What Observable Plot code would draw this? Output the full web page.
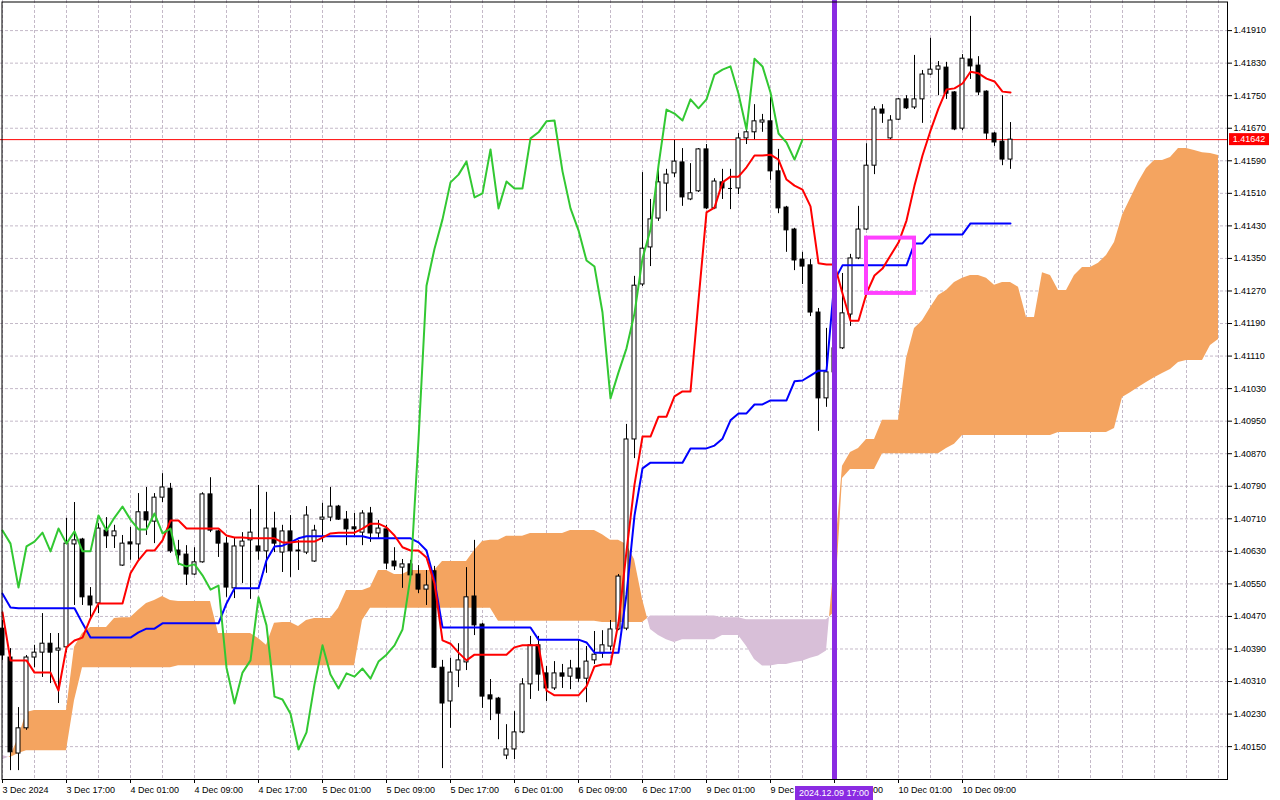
<!DOCTYPE html>
<html>
<head>
<meta charset="utf-8">
<script src="https://cdn.jsdelivr.net/npm/d3@7"></script>
<script src="https://cdn.jsdelivr.net/npm/@observablehq/plot@0.6"></script>
<style>
  html, body { margin: 0; padding: 0; background: #ffffff; }
  #chart svg { display: block; }
</style>
</head>
<body>
<div id="chart"></div>
<script>
// ---------- DATA (H1 bars, index 0 = 3 Dec 2024 09:00) ----------
const open = [
1.40440,1.40369,1.40133,1.40195,1.40369,1.40381,1.40403,1.40386,1.40394,1.40647,
1.40659,1.40519,1.40502,1.40681,1.40667,1.40595,1.40652,1.40647,1.40726,1.40703,
1.40762,1.40784,1.40632,1.40622,1.40573,1.40603,1.40770,1.40679,1.40649,1.40539,
1.40642,1.40657,1.40642,1.40630,1.40686,1.40627,1.40679,1.40632,1.40627,1.40605,
1.40708,1.40713,1.40740,1.40708,1.40689,1.40676,1.40723,1.40674,1.40684,1.40605,
1.40590,1.40598,1.40573,1.40536,1.40581,1.40344,1.40261,1.40337,1.40357,1.40519,
1.40450,1.40276,1.40268,1.40128,1.40143,1.40185,1.40303,1.40399,1.40330,1.40293,
1.40330,1.40322,1.40342,1.40317,1.40362,1.40379,1.40396,1.40438,1.40440,1.40905,
1.41286,1.41377,1.41448,1.41534,1.41559,1.41586,1.41495,1.41515,1.41618,1.41473,
1.41537,1.41522,1.41522,1.41645,1.41660,1.41684,1.41687,1.41564,1.41475,1.41421,
1.41347,1.41333,1.41217,1.41006,1.41070,1.41129,1.41212,1.41350,1.41421,1.41578,
1.41716,1.41645,1.41691,1.41741,1.41721,1.41741,1.41802,1.41814,1.41819,1.41758,
1.41669,1.41839,1.41824,1.41760,1.41657,1.41637,1.41593];
const high = [
1.40460,1.40391,1.40246,1.40374,1.40399,1.40477,1.40428,1.40428,1.40711,1.40750,
1.40662,1.40541,1.40698,1.40713,1.40694,1.40669,1.40689,1.40772,1.40787,1.40772,
1.40821,1.40797,1.40657,1.40644,1.40639,1.40774,1.40811,1.40681,1.40664,1.40662,
1.40676,1.40733,1.40792,1.40775,1.40726,1.40694,1.40718,1.40657,1.40740,1.40694,
1.40748,1.40787,1.40743,1.40728,1.40723,1.40730,1.40738,1.40706,1.40694,1.40639,
1.40610,1.40608,1.40595,1.40583,1.40593,1.40362,1.40367,1.40403,1.40590,1.40657,
1.40453,1.40315,1.40271,1.40204,1.40236,1.40317,1.40421,1.40421,1.40347,1.40359,
1.40352,1.40362,1.40411,1.40396,1.40433,1.40435,1.40460,1.40573,1.40942,1.41306,
1.41561,1.41495,1.41569,1.41569,1.41640,1.41620,1.41583,1.41620,1.41630,1.41546,
1.41569,1.41569,1.41657,1.41672,1.41728,1.41704,1.41746,1.41618,1.41478,1.41424,
1.41365,1.41347,1.41227,1.41178,1.41150,1.41313,1.41360,1.41478,1.41632,1.41723,
1.41728,1.41701,1.41743,1.41750,1.41849,1.41812,1.41891,1.41834,1.41832,1.41760,
1.41851,1.41945,1.41846,1.41762,1.41660,1.41750,1.41684];
const low = [
1.40362,1.40091,1.40091,1.40190,1.40344,1.40320,1.40305,1.40256,1.40381,1.40497,
1.40497,1.40460,1.40477,1.40637,1.40637,1.40593,1.40608,1.40608,1.40669,1.40649,
1.40750,1.40625,1.40595,1.40546,1.40571,1.40601,1.40676,1.40615,1.40517,1.40514,
1.40551,1.40512,1.40608,1.40576,1.40627,1.40578,1.40566,1.40583,1.40622,1.40603,
1.40652,1.40703,1.40706,1.40644,1.40664,1.40644,1.40652,1.40662,1.40585,1.40583,
1.40539,1.40558,1.40526,1.40497,1.40342,1.40096,1.40195,1.40295,1.40337,1.40423,
1.40244,1.40214,1.40167,1.40118,1.40118,1.40182,1.40266,1.40286,1.40261,1.40288,
1.40293,1.40290,1.40308,1.40258,1.40352,1.40367,1.40386,1.40435,1.40435,1.40858,
1.41281,1.41330,1.41441,1.41465,1.41549,1.41478,1.41492,1.41512,1.41470,1.41470,
1.41495,1.41470,1.41507,1.41630,1.41642,1.41660,1.41542,1.41460,1.41365,1.41320,
1.41286,1.41207,1.40925,1.40984,1.41062,1.41126,1.41183,1.41347,1.41419,1.41556,
1.41682,1.41642,1.41689,1.41716,1.41716,1.41682,1.41800,1.41750,1.41741,1.41664,
1.41664,1.41790,1.41750,1.41642,1.41625,1.41578,1.41569];
const close = [
1.40374,1.40136,1.40195,1.40369,1.40381,1.40403,1.40381,1.40391,1.40649,1.40657,
1.40517,1.40497,1.40686,1.40667,1.40679,1.40649,1.40647,1.40726,1.40706,1.40762,
1.40787,1.40630,1.40620,1.40573,1.40603,1.40770,1.40681,1.40649,1.40541,1.40642,
1.40654,1.40676,1.40630,1.40686,1.40649,1.40679,1.40630,1.40630,1.40718,1.40681,
1.40713,1.40740,1.40708,1.40684,1.40684,1.40723,1.40674,1.40686,1.40600,1.40593,
1.40598,1.40571,1.40536,1.40546,1.40344,1.40256,1.40332,1.40362,1.40517,1.40448,
1.40273,1.40266,1.40231,1.40143,1.40185,1.40303,1.40399,1.40327,1.40293,1.40330,
1.40322,1.40342,1.40317,1.40359,1.40376,1.40399,1.40438,1.40568,1.40905,1.41283,
1.41374,1.41446,1.41537,1.41556,1.41588,1.41500,1.41510,1.41618,1.41473,1.41539,
1.41522,1.41522,1.41645,1.41660,1.41687,1.41689,1.41564,1.41473,1.41419,1.41345,
1.41330,1.41217,1.41006,1.41070,1.41129,1.41215,1.41350,1.41421,1.41578,1.41716,
1.41706,1.41689,1.41741,1.41719,1.41741,1.41802,1.41814,1.41822,1.41755,1.41667,
1.41841,1.41822,1.41758,1.41657,1.41635,1.41593,1.41642];

// Tenkan-sen (red)
const tenkan = [
1.40480,1.40362,1.40362,1.40362,1.40332,1.40332,1.40332,1.40288,1.40394,1.40411,
1.40418,1.40465,1.40502,1.40502,1.40502,1.40502,1.40576,1.40608,1.40632,1.40632,
1.40657,1.40706,1.40706,1.40686,1.40686,1.40686,1.40686,1.40686,1.40669,1.40664,
1.40664,1.40662,1.40662,1.40662,1.40662,1.40652,1.40652,1.40654,1.40654,1.40654,
1.40664,1.40674,1.40676,1.40676,1.40676,1.40686,1.40698,1.40698,1.40689,1.40669,
1.40640,1.40632,1.40632,1.40615,1.40551,1.40411,1.40403,1.40381,1.40362,1.40376,
1.40376,1.40376,1.40376,1.40376,1.40394,1.40399,1.40399,1.40399,1.40288,1.40276,
1.40276,1.40276,1.40276,1.40298,1.40347,1.40352,1.40352,1.40455,1.40630,1.40794,
1.40912,1.40912,1.40961,1.40961,1.41011,1.41023,1.41023,1.41247,1.41463,1.41475,
1.41537,1.41551,1.41551,1.41574,1.41603,1.41603,1.41605,1.41593,1.41544,1.41529,
1.41519,1.41478,1.41338,1.41335,1.41335,1.41264,1.41197,1.41197,1.41264,1.41308,
1.41325,1.41357,1.41389,1.41443,1.41529,1.41603,1.41664,1.41719,1.41765,1.41768,
1.41780,1.41809,1.41805,1.41792,1.41785,1.41760,1.41758];

// Kijun-sen (blue)
const kijun = [
1.40526,1.40492,1.40490,1.40490,1.40490,1.40490,1.40490,1.40490,1.40490,1.40490,
1.40453,1.40418,1.40418,1.40418,1.40418,1.40418,1.40418,1.40431,1.40440,1.40440,
1.40453,1.40453,1.40453,1.40453,1.40453,1.40453,1.40453,1.40453,1.40502,1.40539,
1.40539,1.40539,1.40539,1.40608,1.40642,1.40644,1.40652,1.40662,1.40667,1.40667,
1.40667,1.40667,1.40667,1.40667,1.40667,1.40667,1.40662,1.40662,1.40662,1.40662,
1.40662,1.40662,1.40652,1.40632,1.40558,1.40443,1.40443,1.40443,1.40443,1.40443,
1.40443,1.40443,1.40443,1.40443,1.40443,1.40443,1.40443,1.40413,1.40413,1.40413,
1.40413,1.40413,1.40413,1.40406,1.40381,1.40381,1.40381,1.40381,1.40524,1.40718,
1.40834,1.40848,1.40848,1.40848,1.40848,1.40848,1.40883,1.40883,1.40883,1.40890,
1.40907,1.40952,1.40969,1.40969,1.40991,1.40991,1.41001,1.41001,1.41001,1.41048,
1.41050,1.41062,1.41074,1.41074,1.41296,1.41333,1.41333,1.41333,1.41333,1.41333,
1.41333,1.41333,1.41333,1.41333,1.41387,1.41387,1.41409,1.41409,1.41409,1.41409,
1.41409,1.41436,1.41436,1.41436,1.41436,1.41436,1.41436];

// Senkou Span A and B (already displaced 26 bars forward, index 0..152)
const spanA = [
1.40118,1.40126,1.40172,1.40234,1.40239,1.40239,1.40239,1.40239,1.40239,1.40394,
1.40428,1.40443,1.40443,1.40443,1.40465,1.40467,1.40467,1.40485,1.40502,1.40509,
1.40519,1.40509,1.40507,1.40507,1.40507,1.40507,1.40507,1.40428,1.40428,1.40428,
1.40428,1.40428,1.40416,1.40399,1.40453,1.40455,1.40455,1.40445,1.40460,1.40465,
1.40465,1.40465,1.40490,1.40534,1.40534,1.40534,1.40541,1.40583,1.40583,1.40573,
1.40573,1.40583,1.40583,1.40583,1.40583,1.40605,1.40605,1.40605,1.40605,1.40632,
1.40654,1.40657,1.40657,1.40667,1.40667,1.40667,1.40674,1.40674,1.40674,1.40674,
1.40674,1.40681,1.40681,1.40681,1.40681,1.40671,1.40657,1.40657,1.40647,1.40610,
1.40512,1.40438,1.40423,1.40413,1.40406,1.40413,1.40413,1.40413,1.40413,1.40413,
1.40423,1.40423,1.40423,1.40397,1.40364,1.40348,1.40348,1.40352,1.40352,1.40357,
1.40360,1.40367,1.40373,1.40385,1.40608,1.40839,1.40873,1.40883,1.40905,1.40905,
1.40952,1.40952,1.40952,1.41104,1.41178,1.41197,1.41229,1.41259,1.41271,1.41291,
1.41301,1.41308,1.41308,1.41301,1.41284,1.41291,1.41291,1.41279,1.41205,1.41205,
1.41315,1.41308,1.41271,1.41271,1.41308,1.41328,1.41328,1.41338,1.41357,1.41389,
1.41456,1.41497,1.41537,1.41571,1.41591,1.41591,1.41598,1.41620,1.41620,1.41615,
1.41610,1.41608,1.41603];
const spanB = [
1.40128,1.40123,1.40133,1.40140,1.40140,1.40140,1.40140,1.40140,1.40140,1.40263,
1.40344,1.40344,1.40344,1.40344,1.40344,1.40344,1.40344,1.40344,1.40344,1.40344,
1.40344,1.40344,1.40349,1.40349,1.40349,1.40349,1.40349,1.40349,1.40349,1.40349,
1.40349,1.40349,1.40349,1.40349,1.40349,1.40349,1.40349,1.40349,1.40349,1.40349,
1.40349,1.40349,1.40349,1.40349,1.40349,1.40460,1.40490,1.40490,1.40490,1.40490,
1.40490,1.40490,1.40490,1.40490,1.40490,1.40490,1.40490,1.40490,1.40490,1.40490,
1.40490,1.40490,1.40458,1.40458,1.40458,1.40458,1.40458,1.40458,1.40458,1.40458,
1.40458,1.40458,1.40458,1.40458,1.40458,1.40455,1.40455,1.40455,1.40455,1.40455,
1.40455,1.40471,1.40471,1.40471,1.40471,1.40471,1.40471,1.40471,1.40471,1.40471,
1.40467,1.40467,1.40467,1.40462,1.40462,1.40462,1.40462,1.40462,1.40462,1.40462,
1.40462,1.40462,1.40462,1.40462,1.40480,1.40809,1.40831,1.40831,1.40831,1.40831,
1.40870,1.40870,1.40870,1.40870,1.40870,1.40870,1.40870,1.40870,1.40883,1.40893,
1.40915,1.40915,1.40915,1.40915,1.40915,1.40915,1.40915,1.40915,1.40915,1.40915,
1.40915,1.40915,1.40922,1.40922,1.40922,1.40922,1.40922,1.40922,1.40922,1.40932,
1.41008,1.41020,1.41033,1.41045,1.41057,1.41067,1.41077,1.41094,1.41099,1.41099,
1.41099,1.41136,1.41151];

const chikouShift = 26;

const xTickBars = [0,8,16,24,32,40,48,56,64,72,80,88,96,104,112,120];
const xTickLabels = ["3 Dec 2024","3 Dec 17:00","4 Dec 01:00","4 Dec 09:00","4 Dec 17:00",
  "5 Dec 01:00","5 Dec 09:00","5 Dec 17:00","6 Dec 01:00","6 Dec 09:00","6 Dec 17:00",
  "9 Dec 01:00","9 Dec 09:00","9 Dec 17:00","10 Dec 01:00","10 Dec 09:00"];
const yTicks = [1.40150,1.40230,1.40310,1.40390,1.40470,1.40550,1.40630,1.40710,1.40790,
  1.40870,1.40950,1.41030,1.41110,1.41190,1.41270,1.41350,1.41430,1.41510,1.41590,
  1.41670,1.41750,1.41830,1.41910];
const lastPrice = 1.41642;
const markerBar = 104;
const markerLabel = "2024.12.09 17:00";
const boxBars = [108, 114];
const boxPrices = [1.41264, 1.41400];

// ---------- BUILD ----------
const candles = open.map((o, i) => ({i, o, h: high[i], l: low[i], c: close[i]}));
const tenkanData = tenkan.map((v, i) => ({x: i, y: v}));
const kijunData = kijun.map((v, i) => ({x: i, y: v}));
const chikouData = close.slice(chikouShift).map((v, k) => ({x: k, y: v}));

// cloud with crossing points so the two colours meet exactly
const cloud = [];
for (let i = 0; i < spanA.length; i++) {
  cloud.push({x: i, a: spanA[i], b: spanB[i]});
  if (i < spanA.length - 1) {
    const d0 = spanA[i] - spanB[i], d1 = spanA[i + 1] - spanB[i + 1];
    if (d0 * d1 < 0) {
      const t = d0 / (d0 - d1);
      const v = spanA[i] + t * (spanA[i + 1] - spanA[i]);
      cloud.push({x: i + t, a: v, b: v});
    }
  }
}

const gridBars = d3.range(0, spanA.length, 4);
const gridColor = "#c4b9c8";
const font = "'Liberation Sans', Arial, sans-serif";

const chart = Plot.plot({
  width: 1280,
  height: 800,
  marginLeft: 0,
  marginRight: 53,
  marginTop: 0,
  marginBottom: 21,
  style: {fontFamily: font, fontSize: "9px", background: "#ffffff", color: "#000000"},
  x: {type: "linear", domain: [-0.25, 153.125], axis: null},
  y: {type: "linear", domain: [1.400692, 1.41984], axis: null},
  marks: [
    Plot.ruleY(yTicks, {stroke: gridColor, strokeDasharray: "3,2"}),
    Plot.ruleX(gridBars, {stroke: gridColor, strokeDasharray: "3,2"}),
    Plot.areaY(cloud, {x: "x", y1: "b", y2: d => Math.max(d.a, d.b), fill: "#F4A460", curve: "linear"}),
    Plot.areaY(cloud, {x: "x", y1: "a", y2: d => Math.max(d.a, d.b), fill: "#D8BFD8", curve: "linear"}),
    Plot.ruleY([lastPrice], {stroke: "#ff0000", strokeWidth: 1}),
    Plot.ruleX(candles, {x: "i", y1: "l", y2: "h", stroke: "#000000", strokeWidth: 1}),
    Plot.rect(candles.filter(d => d.o !== d.c), {
      x1: d => d.i - 0.25, x2: d => d.i + 0.25, y1: "o", y2: "c",
      fill: d => d.c > d.o ? "#ffffff" : "#000000", stroke: "#000000", strokeWidth: 1
    }),
    Plot.ruleY(candles.filter(d => d.o === d.c), {y: "o", x1: d => d.i - 0.25, x2: d => d.i + 0.25, stroke: "#000000"}),
    Plot.line(kijunData, {x: "x", y: "y", stroke: "#0000ff", strokeWidth: 2}),
    Plot.line(tenkanData, {x: "x", y: "y", stroke: "#ff0000", strokeWidth: 2}),
    Plot.line(chikouData, {x: "x", y: "y", stroke: "#32c832", strokeWidth: 2}),
    Plot.ruleX([markerBar], {stroke: "#8a2be2", strokeWidth: 5}),
    Plot.rect([{x1: boxBars[0], x2: boxBars[1], y1: boxPrices[0], y2: boxPrices[1]}], {
      x1: "x1", x2: "x2", y1: "y1", y2: "y2", fill: "none", stroke: "#ff40ff", strokeWidth: 4
    }),
    Plot.frame({stroke: "#000000", insetLeft: 1.5, insetTop: 1.5}),
    Plot.axisY(yTicks, {anchor: "right", tickSize: 4, tickPadding: 2, tickFormat: d => d.toFixed(5), fontSize: 9, fill: "#000000"}),
    Plot.axisX(xTickBars, {anchor: "bottom", tickSize: 4, tickPadding: 3,
      tickFormat: d => xTickLabels[xTickBars.indexOf(d)], textAnchor: "start", fontSize: 9, fill: "#000000"})
  ]
});

document.getElementById("chart").appendChild(chart);

// overlay labels (price tag and time tag) positioned through the plot's scales
const sx = chart.scale("x"), sy = chart.scale("y");
const svg = d3.select(chart);
const py = sy.apply(lastPrice);
const tag = svg.append("g").attr("font-family", font).attr("font-size", 9);
tag.append("rect").attr("x", 1229).attr("y", py - 6).attr("width", 40).attr("height", 12).attr("fill", "#ff0000");
tag.append("text").attr("x", 1249).attr("y", py).attr("dy", "0.34em").attr("text-anchor", "middle")
  .attr("fill", "#ffffff").text(lastPrice.toFixed(5));
const mx = sx.apply(markerBar);
tag.append("rect").attr("x", mx - 39).attr("y", 786).attr("width", 78).attr("height", 14).attr("fill", "#8a2be2");
tag.append("text").attr("x", mx).attr("y", 793).attr("dy", "0.34em").attr("text-anchor", "middle")
  .attr("fill", "#ffffff").text(markerLabel);
</script>
</body>
</html>
